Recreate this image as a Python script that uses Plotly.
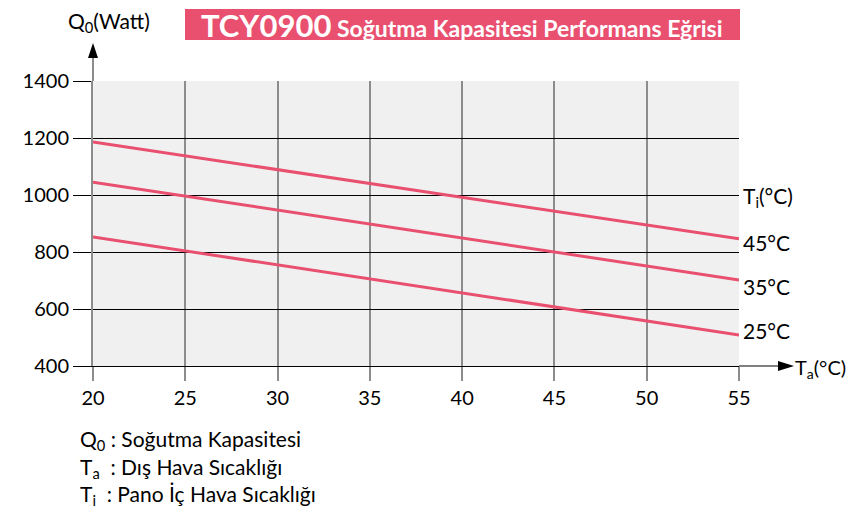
import plotly.graph_objects as go

# Data
ta = [20, 55]
q_45 = [1186, 846]
q_35 = [1045, 702]
q_25 = [853, 509]
series = [("45°C", q_45), ("35°C", q_35), ("25°C", q_25)]
x_ticks = [20, 25, 30, 35, 40, 45, 50, 55]
y_ticks = [400, 600, 800, 1000, 1200, 1400]

W, H = 848, 510
L, R, T, B = 93, 739, 81, 366
FONT = "Lato"
PINK = "#e9506f"

def px(x):
    return (x - L) / (R - L)

def py(y):
    return (B - y) / (B - T)

fig = go.Figure()
for name, q in series:
    fig.add_trace(go.Scatter(x=ta, y=q, mode="lines", name=name,
                             line=dict(color=PINK, width=3), showlegend=False))

shapes = [
    dict(type="rect", xref="paper", yref="paper", x0=px(185), x1=px(740), y0=py(40), y1=py(9),
         fillcolor=PINK, line=dict(width=0), layer="below"),
    dict(type="line", xref="paper", yref="paper", x0=0, x1=0, y0=1, y1=py(56),
         line=dict(color="#8c8c8c", width=2)),
    dict(type="path", xref="paper", yref="paper",
         path=f"M {px(93)} {py(43)} L {px(88)} {py(58)} L {px(98)} {py(58)} Z",
         fillcolor="black", line=dict(width=0)),
    dict(type="line", xref="paper", yref="paper", x0=1, x1=px(782), y0=0, y1=0,
         line=dict(color="black", width=1)),
    dict(type="path", xref="paper", yref="paper",
         path=f"M {px(794)} {py(366)} L {px(778)} {py(361)} L {px(778)} {py(371)} Z",
         fillcolor="black", line=dict(width=0)),
]

ann = []
def text(x, y, s, size=21, anchor="left", yanchor="middle", color="black"):
    ann.append(dict(xref="paper", yref="paper", x=px(x), y=py(y), text=s, showarrow=False,
                    xanchor=anchor, yanchor=yanchor,
                    font=dict(family=FONT, size=size, color=color)))

text(66, 22, "Q<sub>0</sub>(Watt)")
ann.append(dict(xref="paper", yref="paper", x=px(462), y=py(25),
                text="<b><span style='font-size:31px'>TCY0900</span> Soğutma Kapasitesi Performans Eğrisi</b>",
                showarrow=False, xanchor="center", yanchor="middle",
                font=dict(family=FONT, size=23, color="white")))
text(741, 197, "T<sub>i</sub>(°C)")
text(741, 242, "45°C")
text(741, 286, "35°C")
text(741, 330, "25°C")
text(793, 368, "T<sub>a</sub>(°C)", size=20)
text(78, 440, "Q<sub>0</sub> : Soğutma Kapasitesi")
text(78, 468, "T<sub>a</sub>  : Dış Hava Sıcaklığı")
text(78, 495, "T<sub>i</sub>  : Pano İç Hava Sıcaklığı")

fig.update_layout(
    width=W, height=H,
    margin=dict(l=L, r=W - R, t=T, b=H - B),
    paper_bgcolor="white", plot_bgcolor="#f0f0f0",
    font=dict(family=FONT, size=20, color="black"),
    shapes=shapes, annotations=ann,
    xaxis=dict(range=[20, 55], tickvals=x_ticks, ticktext=[str(v) for v in x_ticks],
               showgrid=True, gridcolor="#8c8c8c", gridwidth=2,
               ticks="outside", ticklen=14, tickwidth=2, tickcolor="#8c8c8c",
               showline=True, linecolor="black", linewidth=1, zeroline=False,
               tickfont=dict(family=FONT, size=20)),
    yaxis=dict(range=[400, 1400], tickvals=y_ticks, ticktext=[str(v) for v in y_ticks],
               showgrid=True, gridcolor="black", gridwidth=1,
               ticks="outside", ticklen=18, tickwidth=1, tickcolor="black",
               showline=True, linecolor="#8c8c8c", linewidth=2, zeroline=False,
               tickfont=dict(family=FONT, size=20)),
)

fig.write_html("out.html", config={"displayModeBar": False},
               post_script="document.body.style.margin='0';document.body.style.overflow='hidden';")
